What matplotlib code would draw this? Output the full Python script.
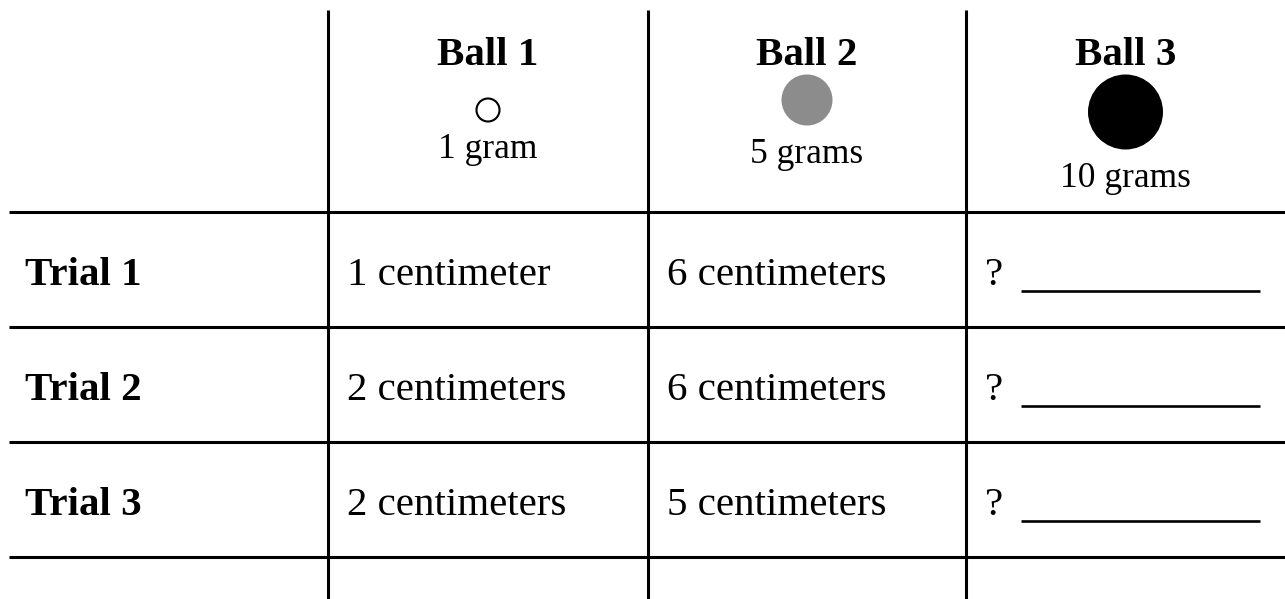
import matplotlib.pyplot as plt
from matplotlib.patches import Circle

# table content
ball_names = ["Ball 1", "Ball 2", "Ball 3"]
ball_masses = ["1 gram", "5 grams", "10 grams"]
trial_names = ["Trial 1", "Trial 2", "Trial 3"]
ball1_dist = ["1 centimeter", "2 centimeters", "2 centimeters"]
ball2_dist = ["6 centimeters", "6 centimeters", "5 centimeters"]
ball3_dist = ["?", "?", "?"]

# layout (pixels, y downwards)
W, H = 1285, 599
col_x = [328, 648, 966, W]
row_y = [212, 327, 442, 557]
ball_diam = [25, 51, 75]
ball_y = [110, 100, 112]
ball_face = ["white", "#8c8c8c", "black"]
mass_base = [158, 163, 187]

plt.rcParams["font.family"] = ["Liberation Serif", "DejaVu Serif"]

fig = plt.figure(figsize=(W / 100, H / 100), dpi=100)
ax = fig.add_axes([0, 0, 1, 1])
ax.set_xlim(0, W)
ax.set_ylim(H, 0)
ax.axis("off")

lw = 2.2
for x in col_x[:3]:
    ax.plot([x, x], [10, H], color="black", lw=lw, solid_capstyle="butt")
for y in row_y:
    ax.plot([9, W], [y, y], color="black", lw=lw, solid_capstyle="butt")

big = 29.5
small = 25.5

# header
for i, name in enumerate(ball_names):
    cx = (col_x[i] + col_x[i + 1]) / 2
    ax.text(cx, 65, name, ha="center", va="baseline", fontsize=big, fontweight="bold")
    r = ball_diam[i] / 2
    if ball_face[i] == "white":
        ax.add_patch(Circle((cx, ball_y[i]), r - 1, facecolor="white",
                            edgecolor="black", lw=1.5))
    else:
        ax.add_patch(Circle((cx, ball_y[i]), r, facecolor=ball_face[i],
                            edgecolor="none"))
    ax.text(cx, mass_base[i], ball_masses[i], ha="center", va="baseline",
            fontsize=small)

# body rows
for j, trial in enumerate(trial_names):
    base = (row_y[j] + row_y[j + 1]) / 2 + 15.5
    ax.text(25, base, trial, ha="left", va="baseline", fontsize=big,
            fontweight="bold")
    ax.text(col_x[0] + 19, base, ball1_dist[j], ha="left", va="baseline",
            fontsize=big)
    ax.text(col_x[1] + 19, base, ball2_dist[j], ha="left", va="baseline",
            fontsize=big)
    ax.text(col_x[2] + 19, base, ball3_dist[j], ha="left", va="baseline",
            fontsize=big)
    ax.plot([1021, 1260], [base + 5.5, base + 5.5], color="black", lw=1.9,
            solid_capstyle="butt")

fig.savefig("out.png", dpi=100)
